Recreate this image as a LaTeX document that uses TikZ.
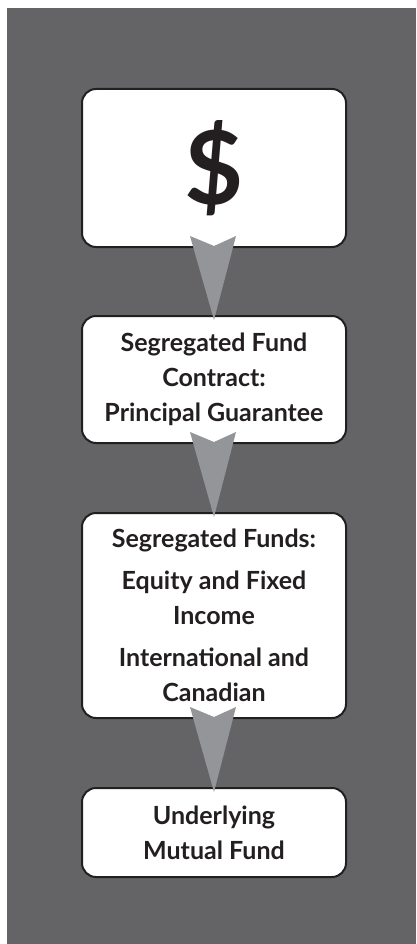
\documentclass[tikz,border=0pt]{standalone}
\usepackage{fontspec}
\setmainfont{Lato}
\usetikzlibrary{calc}
\definecolor{bggray}{HTML}{646466}
\definecolor{arrgray}{HTML}{939598}
\definecolor{ink}{HTML}{231F20}
\tikzset{
  box/.style={draw=ink, line width=2pt, fill=white, rounded corners=14pt,
    minimum width=264pt, inner sep=0pt, align=center, text=ink,
    font=\bfseries\fontsize{25}{35}\selectfont},
  flowarrow/.style={fill=arrgray, draw=none}
}
\newcommand{\flowarr}[2]{%
  \fill[flowarrow] ($(#1.south)+(-24,-12)$) -- ($(#1.south)+(0,-2)$) --
    ($(#1.south)+(22,-12)$) -- ($(#2.north)+(0,5)$) -- cycle;}
\begin{document}
\begin{tikzpicture}[x=1pt,y=-1pt]
\useasboundingbox (0,0) rectangle (416,944);
\fill[white] (0,0) rectangle (416,944);
\fill[bggray] (7,8) rectangle (416,944);
\node[box, minimum height=158pt] (a) at (214,168)
  {\fontsize{102}{102}\selectfont\$};
\node[box, minimum height=127pt] (b) at (214,379.5)
  {Segregated Fund\\Contract:\\Principal Guarantee};
\node[box, minimum height=205pt] (c) at (214,615.5)
  {Segregated Funds:\\[7pt]Equity and Fixed\\Income\\[7pt]International and\\Canadian};
\node[box, minimum height=89pt] (d) at (214,832.5)
  {Underlying\\Mutual Fund};
\flowarr{a}{b}
\flowarr{b}{c}
\flowarr{c}{d}
\end{tikzpicture}
\end{document}
